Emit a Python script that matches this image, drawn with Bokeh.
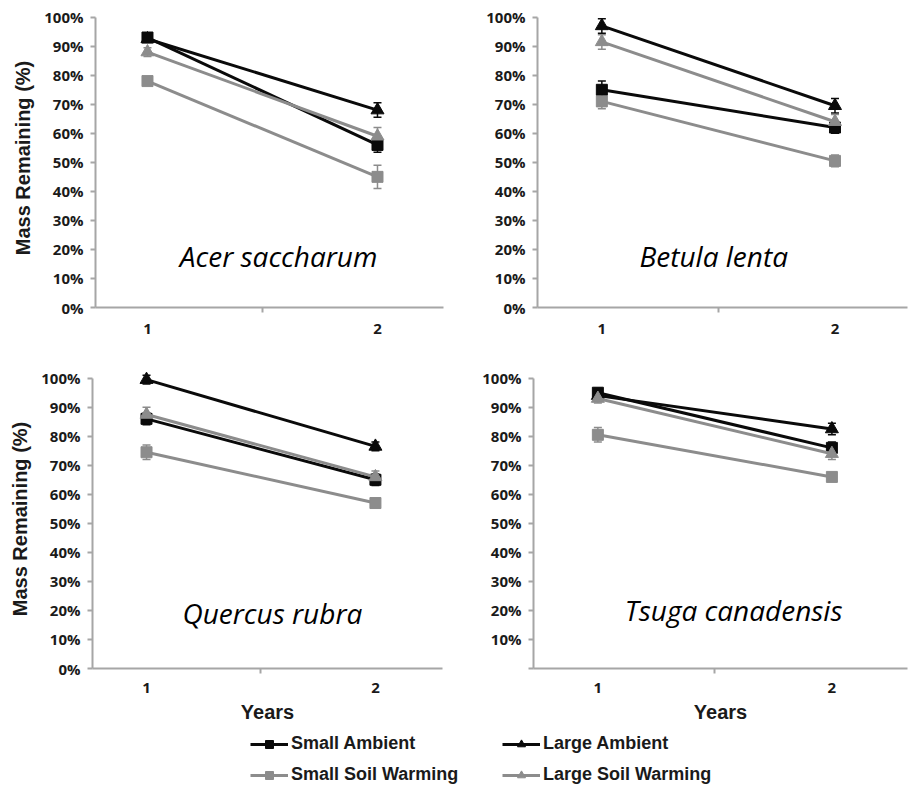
from bokeh.plotting import figure
from bokeh.models import (ColumnDataSource, Whisker, TeeHead, FixedTicker,
                          PrintfTickFormatter, Label, Legend, LegendItem, Range1d)
from bokeh.layouts import column, row
from bokeh.embed import file_html
from bokeh.resources import INLINE

# ---------------- data ----------------
years = [1, 2]
series = ["Small Ambient", "Large Ambient", "Small Soil Warming", "Large Soil Warming"]
y_ticks = [0, 10, 20, 30, 40, 50, 60, 70, 80, 90, 100]
species = ["Acer saccharum", "Betula lenta", "Quercus rubra", "Tsuga canadensis"]

acer_sa = [93.0, 56.0]
acer_sa_err = [1.5, 2.5]
acer_la = [92.5, 68.0]
acer_la_err = [1.0, 2.5]
acer_ssw = [78.0, 45.0]
acer_ssw_err = [1.0, 4.0]
acer_lsw = [88.0, 59.0]
acer_lsw_err = [1.5, 3.0]

betula_sa = [75.0, 62.0]
betula_sa_err = [3.0, 2.0]
betula_la = [97.0, 69.5]
betula_la_err = [2.5, 2.5]
betula_ssw = [71.0, 50.5]
betula_ssw_err = [2.5, 2.0]
betula_lsw = [91.5, 64.0]
betula_lsw_err = [2.5, 2.5]

quercus_sa = [86.0, 65.0]
quercus_sa_err = [2.0, 2.0]
quercus_la = [99.5, 76.5]
quercus_la_err = [1.5, 1.5]
quercus_ssw = [74.5, 57.0]
quercus_ssw_err = [2.5, 1.5]
quercus_lsw = [87.5, 66.0]
quercus_lsw_err = [2.5, 2.0]

tsuga_sa = [95.0, 76.0]
tsuga_sa_err = [1.5, 2.0]
tsuga_la = [94.0, 82.5]
tsuga_la_err = [1.0, 2.0]
tsuga_ssw = [80.5, 66.0]
tsuga_ssw_err = [2.5, 1.5]
tsuga_lsw = [93.0, 74.0]
tsuga_lsw_err = [1.5, 2.0]

# ---------------- styles ----------------
BLACK = "#0a0a0a"
GREY = "#8c8c8c"
AXIS = "#a6a6a6"
TXT = "#1a1a1a"
styles = {
    "Small Ambient": (BLACK, "square", 11),
    "Large Ambient": (BLACK, "triangle", 13),
    "Small Soil Warming": (GREY, "square", 11),
    "Large Soil Warming": (GREY, "triangle", 13),
}


def panel(width, height, borders, xr, data, name, name_pos, ylabel, xlabel, hide_zero):
    l, r, t, b = borders
    p = figure(width=width, height=height, x_range=Range1d(*xr), y_range=Range1d(0, 103),
               toolbar_location=None, output_backend="svg",
               min_border_left=l, min_border_right=r, min_border_top=t, min_border_bottom=b)
    p.outline_line_color = None
    p.grid.visible = False
    p.background_fill_color = "white"
    p.border_fill_color = "white"

    for s in series:
        vals, errs = data[s]
        color, marker, size = styles[s]
        src = ColumnDataSource(dict(x=years, y=vals,
                                    lo=[v - e for v, e in zip(vals, errs)],
                                    hi=[v + e for v, e in zip(vals, errs)]))
        p.add_layout(Whisker(source=src, base="x", upper="hi", lower="lo",
                             line_color=color, line_width=1.5,
                             upper_head=TeeHead(size=8, line_color=color, line_width=1.5),
                             lower_head=TeeHead(size=8, line_color=color, line_width=1.5)))
        p.line("x", "y", source=src, line_color=color, line_width=3)
        p.scatter("x", "y", source=src, marker=marker, size=size,
                  fill_color=color, line_color=color)

    p.yaxis.ticker = FixedTicker(ticks=y_ticks)
    p.yaxis.formatter = PrintfTickFormatter(format="%d%%")
    p.yaxis.bounds = (0, 100)
    if hide_zero:
        p.yaxis.major_label_overrides = {0: ""}
    p.xaxis.ticker = FixedTicker(ticks=years, minor_ticks=[1.5])

    p.axis.axis_line_color = AXIS
    p.axis.axis_line_width = 2
    p.axis.major_tick_line_color = AXIS
    p.axis.major_tick_line_width = 2
    p.axis.minor_tick_line_color = AXIS
    p.axis.minor_tick_line_width = 2
    p.yaxis.major_tick_out = 5
    p.yaxis.major_tick_in = 0
    p.yaxis.minor_tick_out = 0
    p.yaxis.minor_tick_in = 0
    p.xaxis.major_tick_out = 0
    p.xaxis.major_tick_in = 0
    p.xaxis.minor_tick_out = 5
    p.xaxis.minor_tick_in = 0

    p.axis.major_label_text_font = "Open Sans"
    p.axis.major_label_text_font_style = "bold"
    p.axis.major_label_text_font_size = "15px"
    p.axis.major_label_text_color = TXT
    p.yaxis.major_label_standoff = 7
    p.xaxis.major_label_standoff = 11 if not xlabel else 9

    for ax in (p.xaxis[0], p.yaxis[0]):
        ax.axis_label_text_font = "Liberation Sans"
        ax.axis_label_text_font_style = "bold"
        ax.axis_label_text_font_size = "20px"
        ax.axis_label_text_color = TXT
    if ylabel:
        p.yaxis.axis_label = "Mass Remaining (%)"
        p.yaxis.axis_label_standoff = 7
    if xlabel:
        p.xaxis.axis_label = "Years"
        p.xaxis.axis_label_standoff = 5

    p.add_layout(Label(x=name_pos[0], y=name_pos[1], text=name,
                       text_font="Open Sans", text_font_style="italic",
                       text_font_size="28px", text_color="black",
                       text_align="center", text_baseline="middle"))
    return p


acer = {"Small Ambient": (acer_sa, acer_sa_err), "Large Ambient": (acer_la, acer_la_err),
        "Small Soil Warming": (acer_ssw, acer_ssw_err), "Large Soil Warming": (acer_lsw, acer_lsw_err)}
betula = {"Small Ambient": (betula_sa, betula_sa_err), "Large Ambient": (betula_la, betula_la_err),
          "Small Soil Warming": (betula_ssw, betula_ssw_err), "Large Soil Warming": (betula_lsw, betula_lsw_err)}
quercus = {"Small Ambient": (quercus_sa, quercus_sa_err), "Large Ambient": (quercus_la, quercus_la_err),
           "Small Soil Warming": (quercus_ssw, quercus_ssw_err), "Large Soil Warming": (quercus_lsw, quercus_lsw_err)}
tsuga = {"Small Ambient": (tsuga_sa, tsuga_sa_err), "Large Ambient": (tsuga_la, tsuga_la_err),
         "Small Soil Warming": (tsuga_ssw, tsuga_ssw_err), "Large Soil Warming": (tsuga_lsw, tsuga_lsw_err)}

p1 = panel(450, 350, (95, 7, 7, 40), (0.774, 2.287), acer, species[0], (1.57, 17.7), True, False, False)
p2 = panel(459, 350, (87, 2, 8, 43), (0.724, 2.311), betula, species[1], (1.48, 17.9), False, False, False)
p3 = panel(450, 380, (92, 8, 19, 61), (0.764, 2.293), quercus, species[2], (1.55, 19.2), True, True, False)
p4 = panel(459, 380, (83, 2, 19, 62), (0.725, 2.323), tsuga, species[3], (1.58, 20.0), False, True, True)

# ---------------- legend strip ----------------
leg = figure(width=909, height=60, toolbar_location=None, output_backend="svg",
             x_range=Range1d(0, 1), y_range=Range1d(0, 1),
             min_border_left=0, min_border_right=0, min_border_top=0, min_border_bottom=0)
leg.axis.visible = False
leg.grid.visible = False
leg.outline_line_color = None
items = {}
for s in series:
    color, marker, size = styles[s]
    rl = leg.line(x=[-5, -4], y=[-5, -4], line_color=color, line_width=3)
    rs = leg.scatter(x=[-5], y=[-5], marker=marker, size=7 if marker == "square" else 8,
                     fill_color=color, line_color=color)
    items[s] = LegendItem(label=s, renderers=[rl, rs])


def mk_legend(its, loc):
    return Legend(items=its, location=loc, orientation="vertical",
                  glyph_width=38, glyph_height=20, label_standoff=3, spacing=10,
                  padding=0, margin=0, border_line_color=None, background_fill_alpha=0,
                  label_text_font="Liberation Sans", label_text_font_style="bold",
                  label_text_font_size="18px", label_text_color=TXT, label_height=20)


leg.add_layout(mk_legend([items["Small Ambient"], items["Small Soil Warming"]], (250, 5)))
leg.add_layout(mk_legend([items["Large Ambient"], items["Large Soil Warming"]], (502, 5)))

layout = column(row(p1, p2), row(p3, p4), leg)
open("out.html", "w").write(file_html(layout, INLINE))
